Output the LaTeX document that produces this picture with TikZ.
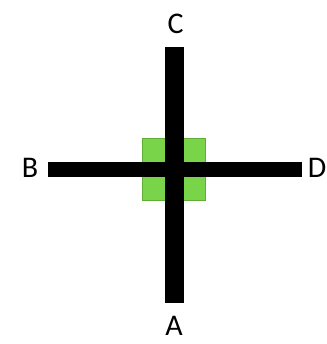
\documentclass[tikz,border=0pt]{standalone}
\usepackage{fontspec}
\setmainfont{Carlito}
\definecolor{grn}{RGB}{122,212,74}
\definecolor{grnd}{RGB}{95,175,55}
\tikzset{
  bar/.style={fill=black,draw=none},
  pad/.style={fill=grn,draw=grnd,line width=0.6pt},
  lbl/.style={font=\fontsize{30}{30}\selectfont,inner sep=0pt}
}
\begin{document}
\begin{tikzpicture}[x=1pt,y=-1pt]
\useasboundingbox (0,0) rectangle (326,344);
\fill[white] (0,0) rectangle (326,344);
\draw[pad] (142,138) rectangle (205,200);
\fill[bar] (165,47) rectangle (184,303);
\fill[bar] (48,162) rectangle (302,177);
\node[lbl] (C) at (175.5,24) {C};
\node[lbl] (A) at (174,326) {A};
\node[lbl] (B) at (30,168) {B};
\node[lbl] (D) at (317,168) {D};
\end{tikzpicture}
\end{document}
